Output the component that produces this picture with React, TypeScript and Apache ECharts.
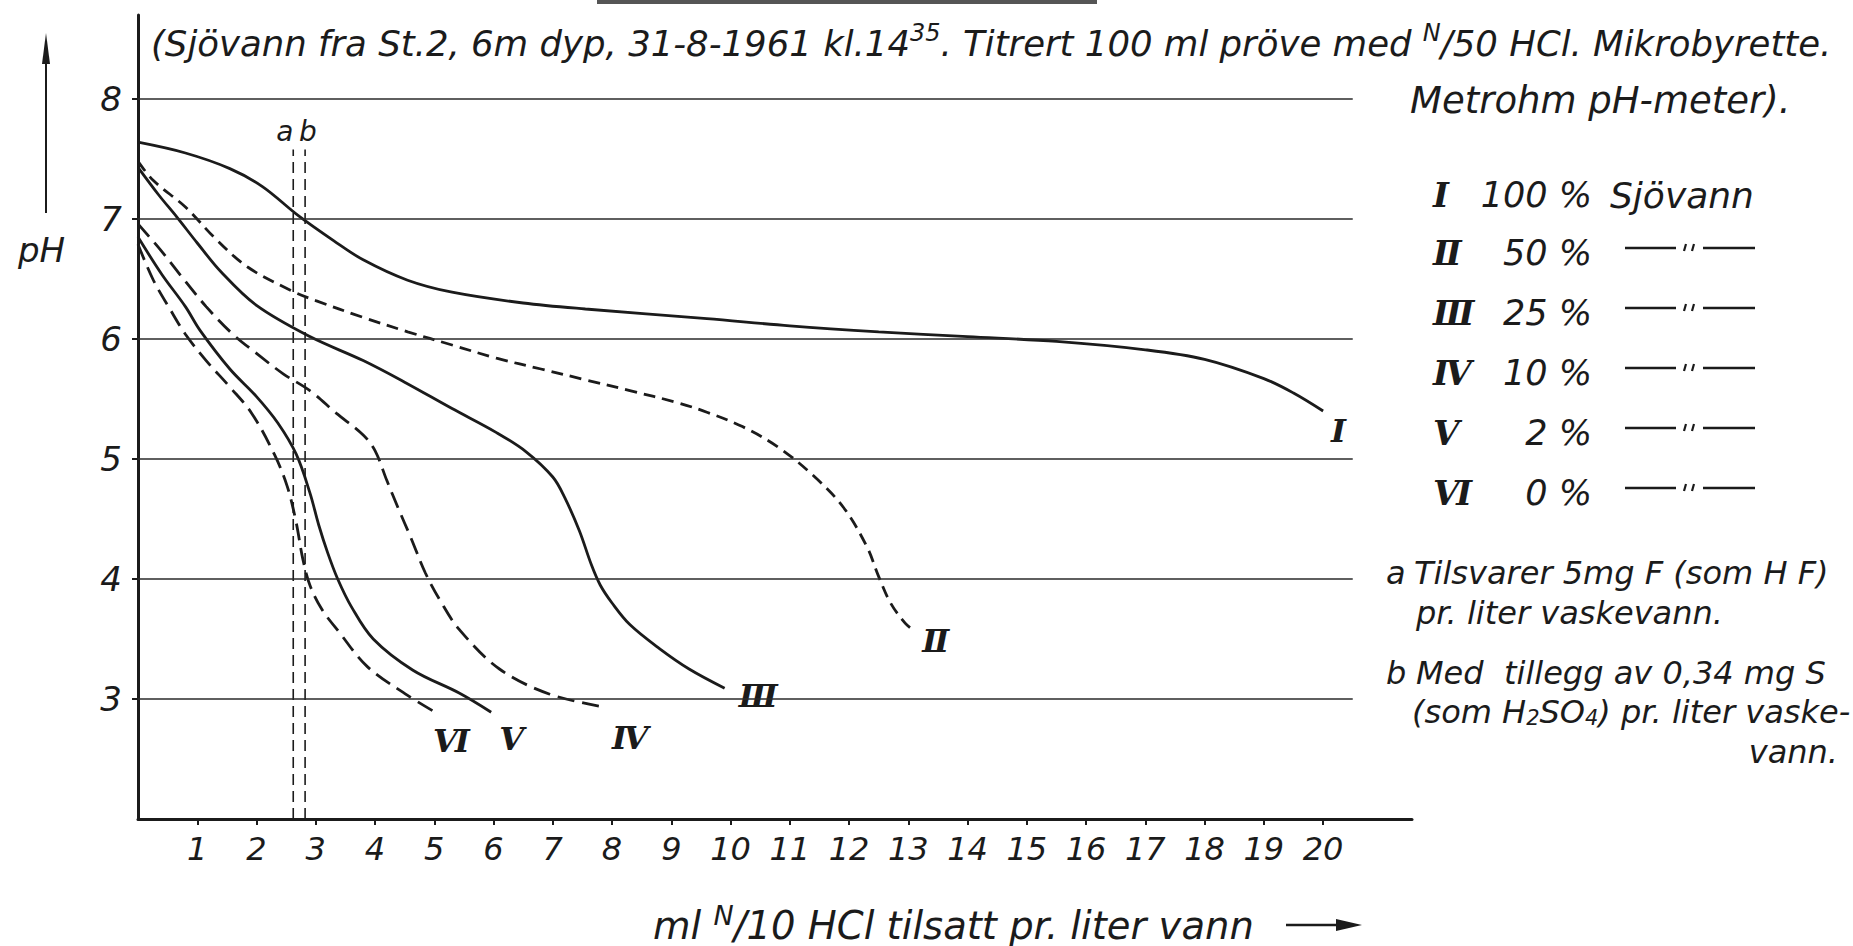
import React, { useEffect, useRef } from "react";
import * as echarts from "echarts";

// ---------- data ----------
const xTickValues = [1, 2, 3, 4, 5, 6, 7, 8, 9, 10, 11, 12, 13, 14, 15, 16, 17, 18, 19, 20];
const pHTickValues = [3, 4, 5, 6, 7, 8];
const gridLevels = [3, 4, 5, 6, 7, 8];
const gridEndX = 20.5;

// I 100 % Sjövann (solid)
const curveI: [number, number][] = [
  [0, 7.64], [0.8, 7.55], [1.55, 7.42], [2.1, 7.27], [2.7, 7.03], [3.3, 6.82],
  [3.8, 6.66], [4.55, 6.49], [5.3, 6.39], [6.5, 6.3], [7.55, 6.25], [9.6, 6.17],
  [11, 6.11], [12.5, 6.06], [14, 6.02], [15.5, 5.98], [17, 5.91], [18, 5.83],
  [19, 5.67], [19.5, 5.55], [20, 5.4],
];
// II 50 % (dashed)
const curveII: [number, number][] = [
  [0, 7.48], [0.26, 7.32], [0.8, 7.1], [1.3, 6.84], [1.85, 6.6], [2.6, 6.4],
  [3.0, 6.32], [3.8, 6.18], [4.55, 6.06], [5.3, 5.95], [6.05, 5.84], [6.8, 5.75],
  [7.55, 5.66], [8.3, 5.57], [9.1, 5.47], [9.6, 5.39], [10.2, 5.27], [10.8, 5.1],
  [11.4, 4.86], [11.9, 4.6], [12.3, 4.27], [12.5, 4.02], [12.7, 3.8], [12.95, 3.63],
  [13.1, 3.57],
];
// III 25 % (solid)
const curveIII: [number, number][] = [
  [0, 7.43], [0.35, 7.2], [0.65, 7.02], [1.0, 6.8], [1.4, 6.56], [2.0, 6.28],
  [2.9, 6.02], [3.8, 5.82], [4.5, 5.64], [5.3, 5.42], [6.05, 5.22], [6.55, 5.06],
  [7.0, 4.85], [7.2, 4.68], [7.45, 4.4], [7.65, 4.12], [7.8, 3.95], [8.0, 3.8],
  [8.3, 3.62], [8.8, 3.42], [9.3, 3.25], [9.9, 3.09],
];
// IV 10 % (dashed)
const curveIV: [number, number][] = [
  [0, 6.96], [0.4, 6.73], [0.8, 6.48], [1.15, 6.27], [1.6, 6.04], [2.0, 5.88],
  [2.45, 5.71], [2.9, 5.57], [3.35, 5.38], [3.8, 5.2], [4.0, 5.07], [4.2, 4.82],
  [4.4, 4.58], [4.6, 4.35], [4.85, 4.05], [5.1, 3.82], [5.42, 3.58], [6.1, 3.25],
  [6.95, 3.04], [7.9, 2.93],
];
// V 2 % (solid)
const curveV: [number, number][] = [
  [0, 6.85], [0.4, 6.54], [0.8, 6.27], [1.05, 6.07], [1.55, 5.75], [2.0, 5.52],
  [2.36, 5.3], [2.67, 5.04], [2.9, 4.72], [3.05, 4.45], [3.2, 4.22], [3.37, 4.0],
  [3.6, 3.77], [3.97, 3.5], [4.64, 3.24], [5.42, 3.05], [5.96, 2.89],
];
// VI 0 % (dashed)
const curveVI: [number, number][] = [
  [0, 6.79], [0.25, 6.5], [0.55, 6.24], [0.8, 6.04], [1.15, 5.82], [1.55, 5.6],
  [1.92, 5.38], [2.3, 5.04], [2.52, 4.77], [2.67, 4.47], [2.78, 4.17], [2.9, 3.95],
  [3.1, 3.75], [3.39, 3.56], [3.87, 3.27], [4.55, 3.03], [4.98, 2.9],
];
// vertical marks a and b
const markA: [number, number][] = [[2.62, 2.0], [2.62, 7.58]];
const markB: [number, number][] = [[2.82, 2.0], [2.82, 7.58]];

const curveNames = ["Ⅰ", "Ⅱ", "Ⅲ", "Ⅳ", "Ⅴ", "Ⅵ"];
const legendPercent = ["100 %", "50 %", "25 %", "10 %", "2 %", "0 %"];
const legendFirstText = "Sjövann";

const titleLine1 =
  "(Sjövann fra St.2, 6m dyp, 31-8-1961 kl.14{s|35}. Titrert 100 ml pröve med {s|N}/50 HCl. Mikrobyrette.";
const titleLine2 = "Metrohm pH-meter).";
const xTitle = "ml {s|N}/10 HCl tilsatt pr. liter vann";
const noteLines = [
  "Tilsvarer 5mg F (som H F)",
  "pr. liter vaskevann.",
  "Med  tillegg av 0,34 mg S",
  "(som H{d|2}SO{d|4}) pr. liter vaske-",
  "vann.",
];

// ---------- styling ----------
const INK = "#1b1b1b";
const FONT = "'DejaVu Sans', 'Noto Sans', sans-serif";
const NUM_FONT = "'DejaVu Serif', 'Liberation Serif', serif";

function txt(x: number, y: number, text: string, fs: number, align = "left", extra: any = {}) {
  return {
    type: "text",
    x,
    y,
    silent: true,
    style: {
      text,
      fill: INK,
      fontSize: fs,
      fontStyle: "italic",
      fontFamily: FONT,
      textAlign: align,
      align,
      textVerticalAlign: "middle",
      verticalAlign: "middle",
      ...extra,
    },
  };
}

function hline(x1: number, y1: number, x2: number, y2: number, w = 2.5) {
  return {
    type: "line",
    silent: true,
    shape: { x1, y1, x2, y2 },
    style: { stroke: INK, lineWidth: w },
  };
}

export default function App() {
  const ref = useRef<HTMLDivElement>(null);

  useEffect(() => {
    if (!ref.current) return;
    const chart = echarts.init(ref.current, undefined, { renderer: "svg" });

    const curveSeries = (
      name: string,
      data: [number, number][],
      dash: number[] | null,
      label: string,
      offset: [number, number]
    ) => ({
      type: "line",
      name,
      data,
      smooth: 0.35,
      showSymbol: false,
      symbol: "none",
      silent: true,
      lineStyle: { color: INK, width: 2.8, type: dash ? dash : "solid" },
      endLabel: {
        show: true,
        formatter: () => label,
        offset,
        color: INK,
        fontSize: 32,
        fontStyle: "italic",
        fontWeight: "bold",
        fontFamily: NUM_FONT,
      },
    });

    const markSeries = (name: string, data: [number, number][], label: string, offset: [number, number]) => ({
      type: "line",
      name,
      data,
      showSymbol: false,
      symbol: "none",
      silent: true,
      lineStyle: { color: INK, width: 1.6, type: [11, 6] },
      endLabel: {
        show: true,
        formatter: () => label,
        offset,
        color: INK,
        fontSize: 28,
        fontStyle: "italic",
        fontFamily: FONT,
      },
    });

    const legendRowsY = [195, 253, 313, 373, 433, 493];
    const graphics: any[] = [];

    // partial rule at the top edge
    graphics.push({
      type: "rect",
      silent: true,
      shape: { x: 597, y: 0, width: 500, height: 4 },
      style: { fill: "#555" },
    });

    // title
    graphics.push(
      txt(151, 43, titleLine1, 35.5, "left", {
        lineHeight: 44,
        rich: { s: { fontSize: 24, verticalAlign: "top", lineHeight: 22, fontStyle: "italic", fontFamily: FONT, fill: INK, color: INK } },
      })
    );
    graphics.push(txt(1410, 100, titleLine2, 37));

    // pH label and arrow
    graphics.push(hline(46, 213, 46, 58, 2));
    graphics.push({
      type: "polygon",
      silent: true,
      shape: { points: [[46, 33], [42, 64], [50, 64]] },
      style: { fill: INK },
    });
    graphics.push(txt(18, 250, "pH", 34));

    // x title and arrow
    graphics.push(
      txt(653, 925, xTitle, 38.5, "left", {
        lineHeight: 46,
        rich: { s: { fontSize: 27, verticalAlign: "top", lineHeight: 26, fontStyle: "italic", fontFamily: FONT, fill: INK, color: INK } },
      })
    );
    graphics.push(hline(1286, 925, 1340, 925, 2.5));
    graphics.push({
      type: "polygon",
      silent: true,
      shape: { points: [[1362, 925], [1336, 919], [1336, 931]] },
      style: { fill: INK },
    });

    // legend
    legendRowsY.forEach((y, i) => {
      graphics.push(txt(1433, y, curveNames[i], 34, "left", { fontWeight: "bold", fontFamily: NUM_FONT }));
      graphics.push(txt(1592, y, legendPercent[i], 35, "right"));
      if (i === 0) {
        graphics.push(txt(1610, y, legendFirstText, 36));
      } else {
        const dy = y - 5;
        graphics.push(hline(1625, dy, 1676, dy, 2.5));
        graphics.push(hline(1686, dy - 4, 1684, dy + 3, 2.2));
        graphics.push(hline(1694, dy - 4, 1692, dy + 3, 2.2));
        graphics.push(hline(1703, dy, 1755, dy, 2.5));
      }
    });

    // notes
    graphics.push(txt(1386, 573, "a", 32));
    graphics.push(txt(1414, 573, noteLines[0], 32));
    graphics.push(txt(1416, 613, noteLines[1], 32));
    graphics.push(txt(1386, 673, "b", 32));
    graphics.push(txt(1416, 673, noteLines[2], 32));
    graphics.push(
      txt(1412, 712, noteLines[3], 32, "left", {
        rich: { d: { fontSize: 21, verticalAlign: "bottom", lineHeight: 22, fontStyle: "italic", fontFamily: FONT, fill: INK, color: INK } },
      })
    );
    graphics.push(txt(1838, 752, noteLines[4], 32, "right"));

    const axisFont = { fontSize: 32, fontStyle: "italic", fontFamily: FONT, color: INK };

    chart.setOption({
      animation: false,
      backgroundColor: "#ffffff",
      grid: { left: 138, top: 15, width: 1274, height: 804, containLabel: false },
      xAxis: {
        type: "value",
        min: 0,
        max: 21.5,
        interval: 1,
        axisLine: { show: true, onZero: false, lineStyle: { color: INK, width: 3 } },
        axisTick: { show: true, length: 6, customValues: xTickValues, lineStyle: { color: INK, width: 2 } },
        axisLabel: { ...axisFont, margin: 14, customValues: xTickValues, formatter: (v: number) => String(v) },
        splitLine: { show: false },
      },
      yAxis: {
        type: "value",
        min: 2,
        max: 8.7,
        interval: 1,
        axisLine: { show: true, onZero: false, lineStyle: { color: INK, width: 3 } },
        axisTick: { show: true, length: 6, customValues: pHTickValues, lineStyle: { color: INK, width: 2 } },
        axisLabel: { ...axisFont, fontSize: 34, margin: 16, customValues: pHTickValues, formatter: (v: number) => String(v) },
        splitLine: { show: false },
      },
      series: [
        {
          ...curveSeries("I", curveI, null, "Ⅰ", [0, 20]),
          markLine: {
            silent: true,
            symbol: "none",
            label: { show: false },
            lineStyle: { color: "#2a2a2a", width: 1.6, type: "solid" },
            data: gridLevels.map((v) => [{ coord: [0, v] }, { coord: [gridEndX, v] }]),
          },
        },
        curveSeries("II", curveII, [12, 7], "Ⅱ", [0, 10]),
        curveSeries("III", curveIII, null, "Ⅲ", [6, 8]),
        curveSeries("IV", curveIV, [17, 8], "Ⅳ", [-2, 31]),
        curveSeries("V", curveV, null, "Ⅴ", [0, 27]),
        curveSeries("VI", curveVI, [17, 8], "Ⅵ", [-8, 30]),
        markSeries("a", markA, "a", [-25, -18]),
        markSeries("b", markB, "b", [-14, -18]),
      ],
      graphic: { elements: graphics },
    });

    return () => chart.dispose();
  }, []);

  return (
    <div
      ref={ref}
      style={{ position: "fixed", left: 0, top: 0, width: 1853, height: 946, background: "#fff" }}
    />
  );
}
